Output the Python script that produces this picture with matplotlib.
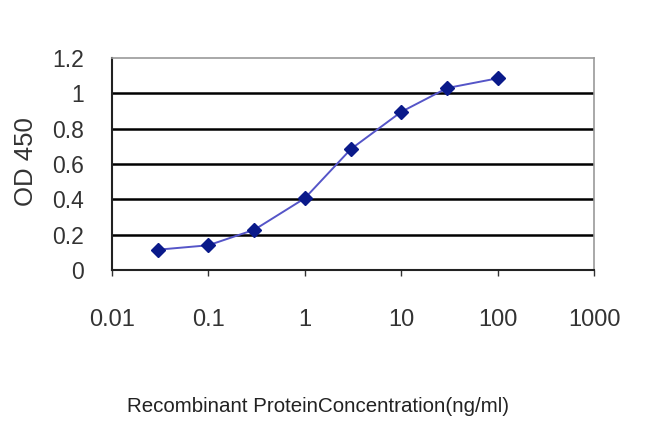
import matplotlib
matplotlib.use("Agg")
import matplotlib.pyplot as plt

# concentration (ng/ml) and OD 450 readings
conc = [0.03, 0.1, 0.3, 1, 3, 10, 30, 100]
od450 = [0.115, 0.14, 0.228, 0.406, 0.684, 0.895, 1.03, 1.085]
x_ticks = [0.01, 0.1, 1, 10, 100, 1000]
x_labels = ["0.01", "0.1", "1", "10", "100", "1000"]
y_ticks = [0, 0.2, 0.4, 0.6, 0.8, 1.0, 1.2]
y_labels = ["0", "0.2", "0.4", "0.6", "0.8", "1", "1.2"]

plt.rcParams['font.family'] = ['Liberation Sans', 'DejaVu Sans']

fig = plt.figure(figsize=(6.5, 4.33), dpi=100)
ax = fig.add_axes([112 / 650, 1 - 270 / 433, 482 / 650, 212 / 433])

for v in y_ticks[1:-1]:
    ax.axhline(v, color='black', lw=1.8, zorder=1)

ax.plot(conc, od450, color='#5555c8', lw=1.4, zorder=2)
ax.plot(conc, od450, ls='none', marker='D', ms=7, color='#0a1a8a', zorder=3)

ax.set_xscale('log')
ax.set_xlim(0.01, 1000)
ax.set_ylim(0, 1.2)
ax.set_xticks(x_ticks)
ax.set_xticklabels(x_labels)
ax.minorticks_off()
ax.set_yticks(y_ticks)
ax.set_yticklabels(y_labels)

ax.tick_params(axis='x', direction='out', length=4, width=1, pad=24,
               labelsize=17, colors='#333333')
ax.tick_params(axis='y', direction='out', length=0, pad=20,
               labelsize=16.5, colors='#333333')
for s in ['left', 'bottom']:
    ax.spines[s].set_color('#222222')
    ax.spines[s].set_linewidth(1.5)
for s in ['top', 'right']:
    ax.spines[s].set_color('#999999')
    ax.spines[s].set_linewidth(1.2)

fig.text(26 / 650, 1 - 162 / 433, "OD 450", rotation=90, ha='center',
         va='center', fontsize=18.5, color='#333333')
fig.text(318 / 650, 1 - 406 / 433, "Recombinant ProteinConcentration(ng/ml)",
         ha='center', va='center', fontsize=14.8, color='#222222')

fig.savefig("out.png", dpi=100)
